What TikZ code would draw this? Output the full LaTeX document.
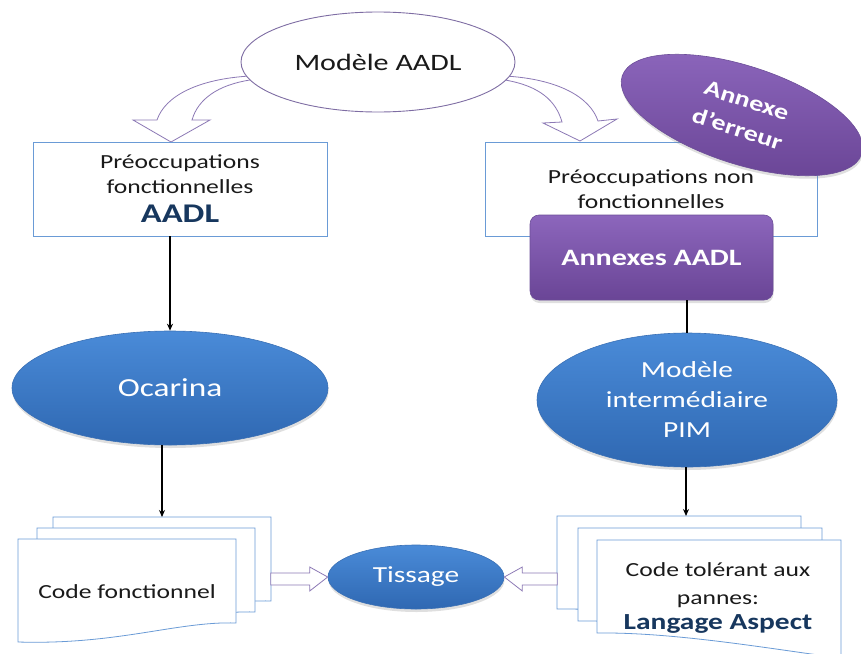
\documentclass[tikz,border=0pt]{standalone}
\usepackage{fontspec}
\setmainfont{Carlito}[FakeStretch=1.28]
\usetikzlibrary{shapes.geometric,shadows,calc,arrows.meta}

\definecolor{blueT}{HTML}{4A8BD8}
\definecolor{blueB}{HTML}{2F68B2}
\definecolor{blueEdge}{HTML}{3A70B5}
\definecolor{purpT}{HTML}{8C66BC}
\definecolor{purpB}{HTML}{6A4596}
\definecolor{purpEdge}{HTML}{6C4E98}
\definecolor{boxEdge}{HTML}{6A9BD6}
\definecolor{arrEdge}{HTML}{8C79B5}
\definecolor{navy}{HTML}{17375E}
\definecolor{ink}{HTML}{1A1A1A}

\begin{document}
\begin{tikzpicture}[x=1pt,y=-1pt,
  txt/.style={font=\fontsize{20}{25}\selectfont, text=ink, align=center},
  shade/.style={drop shadow={opacity=0.25, shadow xshift=0.5pt, shadow yshift=-3pt}},
  blueell/.style={ellipse, inner sep=0pt, draw=blueEdge, line width=0.6pt,
    top color=blueT, bottom color=blueB, text=white, align=center, shade},
  purpshape/.style={inner sep=0pt, draw=purpEdge, line width=0.6pt,
    top color=purpT, bottom color=purpB, text=white, align=center, shade},
  framebox/.style={rectangle, draw=boxEdge, line width=0.8pt, fill=white, inner sep=0pt},
  hollow/.style={draw=arrEdge, line width=0.8pt, fill=white, line join=miter},
  docline/.style={draw=boxEdge, line width=0.8pt, fill=white},
  link/.style={draw=black, line width=1.4pt, -{Stealth[length=7pt,width=6pt]}},
  plain/.style={draw=black, line width=1.4pt},
  lsheet/.pic={\path[docline] (0,0) -- (218,0) -- (218,84)
      .. controls (160,82) and (100,106) .. (0,103) -- cycle;},
  rsheet/.pic={\path[docline] (0,0) -- (244,0) -- (244,118)
      .. controls (180,110) and (80,92) .. (0,93) -- cycle;}
]
\useasboundingbox (0,0) rectangle (861,653);
\clip (0,0) rectangle (861,653);

% curved block arrows leaving the AADL model
\path[hollow] (250,76) .. controls (198,79) and (165,96) .. (157,120)
  -- (133,120) -- (171,142) -- (210,120) -- (192,120)
  .. controls (198,99) and (218,85) .. (250,80) -- cycle;
\path[hollow] (505,76) .. controls (558,79) and (590,97) .. (598,121)
  -- (617,119) -- (580,141) -- (543,123) -- (562,122)
  .. controls (556,101) and (540,86) .. (505,80) -- cycle;

% AADL model
\node[ellipse, draw=arrEdge!90!black, line width=0.9pt, fill=white,
  minimum width=274pt, minimum height=100pt, inner sep=0pt,
  font=\fontsize{23.5}{28}\selectfont, text=ink] (aadl) at (378,62) {Modèle AADL};

% concern boxes
\node[framebox, txt, minimum width=294pt, minimum height=94pt] (lbox) at (180,189)
  {Préoccupations\\fonctionnelles\\[4pt]{\fontsize{27}{30}\selectfont\bfseries\color{navy}AADL}};
\node[framebox, txt, minimum width=332pt, minimum height=94pt] (rbox) at (651,189)
  {Préoccupations non\\fonctionnelles};

% error annex and AADL annexes
\node[purpshape, ellipse, rotate=-18, minimum width=252pt, minimum height=98pt,
  font=\fontsize{22}{30}\selectfont\bfseries] (err) at (742,115) {Annexe\\d’erreur};
\node[purpshape, rectangle, rounded corners=9pt, minimum width=243pt, minimum height=85pt,
  font=\fontsize{23.5}{28}\selectfont\bfseries] (annx) at (651.5,257.5) {Annexes AADL};

% processing ellipses
\node[blueell, minimum width=316pt, minimum height=114pt,
  font=\fontsize{26}{30}\selectfont] (ocarina) at (170,388) {Ocarina};
\node[blueell, minimum width=300pt, minimum height=134pt,
  font=\fontsize{23}{30}\selectfont] (pim) at (687,400) {Modèle\\intermédiaire\\PIM};
\node[blueell, minimum width=176pt, minimum height=64pt,
  font=\fontsize{23}{28}\selectfont] (tiss) at (416,577) {Tissage};

% stacks of code documents
\pic at (53,517) {lsheet};
\pic at (37,528) {lsheet};
\pic at (18,539) {lsheet};
\coordinate (ltop) at (162,517);
\node[txt] (lcode) at (127,592) {Code fonctionnel};

\pic at (557,516) {rsheet};
\pic at (578,528) {rsheet};
\pic at (597,540) {rsheet};
\coordinate (rtop) at (686,516);
\node[txt, font=\fontsize{20}{28}\selectfont] (rcode) at (718,598)
  {Code tolérant aux\\pannes:\\[-3pt]{\fontsize{23}{26}\selectfont\bfseries\color{navy}Langage Aspect}};

% connectors
\draw[link] (ocarina.north |- lbox.south) -- (ocarina.north);
\draw[plain] (pim.north |- annx.south) -- (pim.north);
\draw[link] (ocarina.south -| ltop) -- (ltop);
\draw[link] (pim.south -| rtop) -- (rtop);

% hollow arrows into the weaving step
\path[hollow] ($(tiss.west)+(-57,-4)$) -- ++(39,0) -- ++(0,-6) -- (tiss.west)
  -- ++(-18,14) -- ++(0,-6) -- ++(-39,0) -- cycle;
\path[hollow] ($(tiss.east)+(53,-4)$) -- ++(-35,0) -- ++(0,-6) -- (tiss.east)
  -- ++(18,14) -- ++(0,-6) -- ++(35,0) -- cycle;
\end{tikzpicture}
\end{document}
